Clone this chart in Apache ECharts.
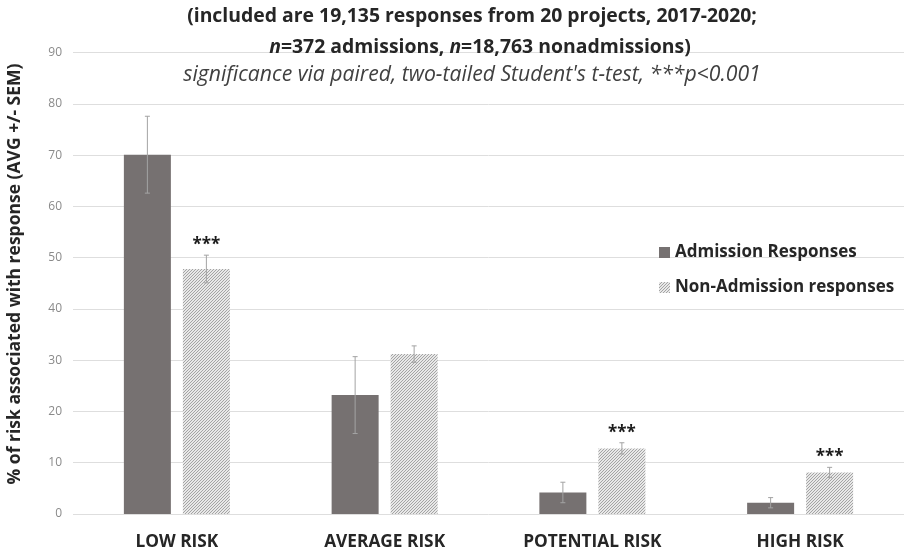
<!DOCTYPE html>
<html>
<head>
<meta charset="utf-8">
<script src="https://cdn.jsdelivr.net/npm/echarts@6/dist/echarts.min.js"></script>
<style>
  html, body { margin: 0; padding: 0; background: #fff; }
  #chart { width: 904px; height: 554px; }
</style>
</head>
<body>
<div id="chart"></div>
<script>
// Risk categories on the x axis
const categories = ['LOW RISK', 'AVERAGE RISK', 'POTENTIAL RISK', 'HIGH RISK'];

// Mean % of risk and standard error of the mean, per response group
const admissionMean = [70.1, 23.2, 4.2, 2.2];
const admissionSem = [7.5, 7.5, 2.0, 1.0];
const nonAdmissionMean = [47.8, 31.2, 12.8, 8.1];
const nonAdmissionSem = [2.7, 1.6, 1.1, 1.0];

// Significance markers shown above the non-admission bars
const significance = ['***', '', '***', '***'];

// Y axis ticks
const yTicks = [0, 10, 20, 30, 40, 50, 60, 70, 80, 90];

const seriesNames = ['Admission Responses', 'Non-Admission responses'];

const FONT = '"Open Sans", Lato, sans-serif';
const BAR_WIDTH = 47;
const BAR_GAP_PX = 12;
const HALF_STEP = (BAR_WIDTH + BAR_GAP_PX) / 2;

// Fine diagonal hatch fill for the non-admission bars
function makeHatch() {
  const c = document.createElement('canvas');
  c.width = 3; c.height = 3;
  const g = c.getContext('2d');
  g.fillStyle = '#e8e8e8';
  g.fillRect(0, 0, 3, 3);
  g.fillStyle = '#a4a4a4';
  for (let i = 0; i < 3; i++) g.fillRect(2 - i, i, 1, 1);
  return c;
}
const hatch = { image: makeHatch(), repeat: 'repeat' };

function errorData(means, sems, marks, side) {
  return means.map((m, i) => [i, m, sems[i], side, marks ? marks[i] : '']);
}

function renderError(params, api) {
  const idx = api.value(0);
  const mean = api.value(1);
  const sem = api.value(2);
  const side = api.value(3);
  const mark = api.value(4);
  const hi = api.coord([idx, mean + sem]);
  const lo = api.coord([idx, mean - sem]);
  const x = hi[0] + side * HALF_STEP;
  const cap = 2.5;
  const style = { stroke: '#a3a3a3', lineWidth: 1 };
  const children = [
    { type: 'line', shape: { x1: x, y1: hi[1], x2: x, y2: lo[1] }, style },
    { type: 'line', shape: { x1: x - cap, y1: hi[1], x2: x + cap, y2: hi[1] }, style },
    { type: 'line', shape: { x1: x - cap, y1: lo[1], x2: x + cap, y2: lo[1] }, style }
  ];
  if (mark) {
    children.push({
      type: 'text',
      style: {
        text: mark, x: x, y: hi[1] - 10,
        align: 'center', verticalAlign: 'middle',
        font: 'bold 17px ' + FONT, fill: '#1a1a1a'
      }
    });
  }
  return { type: 'group', children };
}

const chart = echarts.init(document.getElementById('chart'), null, { renderer: 'canvas' });

chart.setOption({
  animation: false,
  backgroundColor: '#ffffff',
  title: [
    {
      text: '(included are 19,135 responses from 20 projects, 2017-2020;',
      left: 467, top: 2, textAlign: 'center',
      textStyle: { fontFamily: FONT, fontWeight: 'bold', fontSize: 19.4, color: '#262626' }
    },
    {
      text: '{i|n}{b|=372 admissions, }{i|n}{b|=18,763 nonadmissions)}',
      left: 475, top: 33, textAlign: 'center',
      textStyle: {
        rich: {
          b: { fontFamily: FONT, fontWeight: 'bold', fontSize: 19.4, color: '#262626' },
          i: { fontFamily: FONT, fontWeight: 'bold', fontStyle: 'italic', fontSize: 19.4, color: '#262626' }
        }
      }
    },
    {
      text: "significance via paired, two-tailed Student's t-test, ***p<0.001",
      left: 467, top: 59, textAlign: 'center',
      textStyle: { fontFamily: FONT, fontWeight: 'normal', fontStyle: 'italic', fontSize: 21.2, color: '#404040' }
    }
  ],
  graphic: [
    {
      type: 'text',
      x: 15, y: 274, rotation: Math.PI / 2,
      style: {
        text: '% of risk associated with response (AVG +/- SEM)',
        align: 'center', verticalAlign: 'middle',
        font: 'bold 17.5px ' + FONT, fill: '#262626'
      }
    }
  ],
  legend: {
    orient: 'vertical',
    left: 654, top: 239,
    itemWidth: 11, itemHeight: 11, itemGap: 18,
    icon: 'rect',
    data: seriesNames,
    textStyle: { fontFamily: FONT, fontWeight: 'bold', fontSize: 17, color: '#262626' }
  },
  grid: { left: 73, width: 838, top: 52.7, bottom: 40, containLabel: false },
  xAxis: {
    type: 'category',
    data: categories,
    axisLine: { show: false },
    axisTick: { show: false },
    axisLabel: {
      margin: 20,
      fontFamily: FONT, fontWeight: 'bold', fontSize: 17.3, color: '#262626'
    }
  },
  yAxis: {
    type: 'value',
    min: yTicks[0], max: yTicks[yTicks.length - 1], interval: 10,
    axisLine: { show: false },
    axisTick: { show: false },
    axisLabel: { margin: 11, fontFamily: FONT, fontSize: 12, color: '#8a8a8a' },
    splitLine: { lineStyle: { color: '#dedede', width: 1 } }
  },
  series: [
    {
      name: seriesNames[0],
      type: 'bar',
      data: admissionMean,
      barWidth: BAR_WIDTH,
      barGap: (BAR_GAP_PX / BAR_WIDTH * 100) + '%',
      itemStyle: { color: '#767171' }
    },
    {
      name: seriesNames[1],
      type: 'bar',
      data: nonAdmissionMean,
      barWidth: BAR_WIDTH,
      itemStyle: { color: hatch }
    },
    {
      type: 'custom',
      name: 'admission-sem',
      renderItem: renderError,
      data: errorData(admissionMean, admissionSem, null, -1),
      z: 5,
      silent: true
    },
    {
      type: 'custom',
      name: 'nonadmission-sem',
      renderItem: renderError,
      data: errorData(nonAdmissionMean, nonAdmissionSem, significance, 1),
      z: 5,
      silent: true
    }
  ]
});
</script>
</body>
</html>
